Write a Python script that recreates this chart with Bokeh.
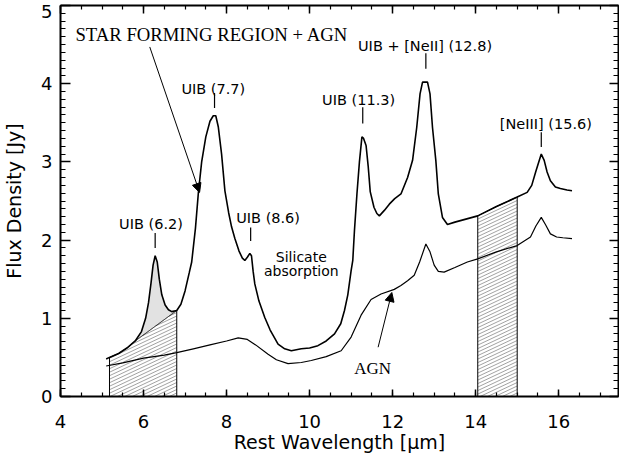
import numpy as np
from bokeh.plotting import figure
from bokeh.models import (LinearAxis, FixedTicker, Range1d, Arrow, NormalHead,
                          CustomJSTickFormatter)
from bokeh.core.properties import value
from bokeh.embed import file_html
from bokeh.resources import INLINE

# ---------------- data ----------------
sf_x = [5.10, 5.18, 5.40, 5.60, 5.80, 5.95, 6.05, 6.12, 6.18, 6.23, 6.28, 6.33, 6.38, 6.44,
        6.52, 6.60, 6.68, 6.80, 6.90, 7.00, 7.10, 7.16, 7.25, 7.32, 7.40, 7.50, 7.60, 7.68,
        7.74, 7.80, 7.88, 7.96, 8.05, 8.12, 8.20, 8.30, 8.38, 8.44, 8.50, 8.56, 8.60, 8.64,
        8.68, 8.78, 8.92, 9.05, 9.24, 9.40, 9.56, 9.80, 10.00, 10.20, 10.40, 10.60, 10.75,
        10.84, 10.92, 11.00, 11.04, 11.08, 11.14, 11.20, 11.26, 11.30, 11.36, 11.41, 11.46,
        11.55, 11.62, 11.68, 11.80, 11.92, 12.05, 12.20, 12.36, 12.48, 12.58, 12.66, 12.72,
        12.84, 12.90, 12.96, 13.04, 13.10, 13.20, 13.32, 13.50, 14.05, 14.50, 15.00, 15.24,
        15.35, 15.45, 15.58, 15.65, 15.72, 15.80, 15.92, 16.04, 16.20, 16.32]
sf_y = [0.48, 0.50, 0.55, 0.62, 0.71, 0.83, 1.00, 1.20, 1.45, 1.68, 1.80, 1.72, 1.50, 1.30,
        1.17, 1.11, 1.085, 1.10, 1.18, 1.35, 1.58, 1.72, 2.15, 2.60, 3.00, 3.32, 3.52, 3.59,
        3.59, 3.45, 3.10, 2.63, 2.35, 2.17, 2.02, 1.86, 1.77, 1.74, 1.78, 1.83, 1.80, 1.60,
        1.44, 1.22, 1.01, 0.85, 0.67, 0.61, 0.585, 0.61, 0.62, 0.65, 0.71, 0.80, 0.93,
        1.10, 1.30, 1.61, 1.74, 2.12, 2.59, 3.00, 3.32, 3.30, 3.21, 2.95, 2.62,
        2.42, 2.34, 2.31, 2.38, 2.46, 2.53, 2.59, 2.80, 3.02, 3.44, 3.87, 4.02,
        4.02, 3.87, 3.44, 3.02, 2.59, 2.29, 2.20, 2.23, 2.31, 2.43, 2.55, 2.61,
        2.70, 2.88, 3.10, 3.02, 2.87, 2.76, 2.68, 2.66, 2.64, 2.63]

agn_x = [5.10, 5.50, 6.00, 6.50, 6.80, 7.20, 7.60, 8.00, 8.28, 8.50, 8.70, 9.00, 9.20,
         9.48, 9.80, 10.04, 10.40, 10.76, 11.00, 11.24, 11.48, 11.72, 12.04, 12.20, 12.36,
         12.52, 12.65, 12.80, 12.90, 13.00, 13.10, 13.24, 13.50, 13.80, 14.05, 14.50, 15.00,
         15.32, 15.45, 15.58, 15.68, 15.80, 15.95, 16.10, 16.32]
agn_y = [0.39, 0.43, 0.49, 0.53, 0.56, 0.61, 0.66, 0.71, 0.75, 0.73, 0.66, 0.54, 0.47,
         0.42, 0.435, 0.46, 0.51, 0.585, 0.76, 1.04, 1.24, 1.31, 1.37, 1.42, 1.48,
         1.55, 1.72, 1.95, 1.85, 1.68, 1.60, 1.59, 1.65, 1.72, 1.76, 1.85, 1.93,
         2.04, 2.18, 2.29, 2.20, 2.08, 2.04, 2.03, 2.02]

band1 = [5.18, 6.80]       # hatched continuum band (short side)
band2 = [14.05, 15.00]     # hatched continuum band (long side)
feature_base_start = 5.80  # where the 6.2 um feature leaves the continuum

label_text = ["UIB (6.2)", "UIB (7.7)", "UIB (8.6)", "UIB (11.3)",
              "UIB + [NeII] (12.8)", "[NeIII] (15.6)"]
label_x = [6.18, 7.68, 9.00, 11.18, 12.78, 15.69]
label_y = [2.21, 3.93, 2.28, 3.79, 4.48, 3.48]
mark_x = [6.28, 7.71, 8.58, 11.28, 12.80, 15.58]
mark_y0 = [1.90, 3.69, 1.99, 3.49, 4.19, 3.19]
mark_y1 = [2.09, 3.88, 2.16, 3.70, 4.39, 3.38]

x_ticks = [4, 6, 8, 10, 12, 14, 16]
y_ticks = [0, 1, 2, 3, 4, 5]

# ---------------- figure ----------------
p = figure(width=619, height=460, x_range=Range1d(4, 17.44), y_range=Range1d(0, 5),
           output_backend="svg", toolbar_location=None,
           min_border_left=58, min_border_right=1, min_border_top=5, min_border_bottom=64)
p.outline_line_color = None
p.grid.visible = False

xminor = [4 + 0.5 * i for i in range(28)]
yminor = [0.1 * i for i in range(51)]
xt = FixedTicker(ticks=x_ticks, minor_ticks=xminor)
yt = FixedTicker(ticks=y_ticks, minor_ticks=yminor)

FONT = "DejaVu Sans"


def style(ax, major, minor, show_labels):
    ax.axis_line_width = 2
    ax.axis_line_color = "black"
    ax.major_tick_in = major
    ax.major_tick_out = 0
    ax.minor_tick_in = minor
    ax.minor_tick_out = 0
    ax.major_tick_line_width = 1.5
    ax.minor_tick_line_width = 1.2
    ax.major_tick_line_color = "black"
    ax.minor_tick_line_color = "black"
    if show_labels:
        ax.major_label_text_font = FONT
        ax.major_label_text_font_size = "18px"
        ax.major_label_text_color = "black"
        ax.axis_label_text_font = FONT
        ax.axis_label_text_font_size = "19px"
        ax.axis_label_text_font_style = "normal"
        ax.axis_label_text_color = "black"
    else:
        ax.formatter = CustomJSTickFormatter(code="return '';")
        ax.major_label_text_font_size = "1px"
        ax.major_label_standoff = 0


xa = p.xaxis[0]
xa.ticker = xt
style(xa, 7, 4, True)
xa.major_label_standoff = 18
xa.axis_label = "Rest Wavelength [μm]"
xa.axis_label_standoff = 0

ya = p.yaxis[0]
ya.ticker = yt
style(ya, 10, 5, True)
ya.major_label_standoff = 8
# the top tick label sits just below the frame edge, as in the original
ya.major_label_overrides = {5: "5\n"}
ya.axis_label = "Flux Density [Jy]"
ya.axis_label_standoff = 13

top_ax = LinearAxis(ticker=xt)
style(top_ax, 8, 4, False)
p.add_layout(top_ax, "above")
right_ax = LinearAxis(ticker=yt)
style(right_ax, 9, 5, False)
p.add_layout(right_ax, "right")

# ---------------- continuum bands / feature fill ----------------
sx = np.array(sf_x)
sy = np.array(sf_y)


def curve(x):
    return np.interp(x, sx, sy)


def top1(x):
    x = np.asarray(x, dtype=float)
    ya_ = curve(feature_base_start)
    yb_ = curve(band1[1])
    lin = ya_ + (yb_ - ya_) * (x - feature_base_start) / (band1[1] - feature_base_start)
    return np.where(x <= feature_base_start, curve(x), lin)


# grey 6.2 feature area
m = (sx > feature_base_start) & (sx < band1[1])
gx = [feature_base_start] + list(sx[m]) + [band1[1]]
gy = [curve(feature_base_start)] + list(sy[m]) + [curve(band1[1])]
p.patch(gx, gy, fill_color="#e2e2e2", line_color=None)

# hatch lines (shallow diagonal)
slope_px = 0.47
px_x = 41.67
px_y = 78.2
slope = slope_px * px_x / px_y
step = 3.5 / px_y


def hatch(x0, x1, top_fn):
    xg = np.linspace(x0, x1, 600)
    tg = top_fn(xg)
    X0, Y0, X1, Y1 = [], [], [], []
    c = -slope * (x1 - x0)
    while c < tg.max():
        yg = c + slope * (xg - x0)
        ok = (yg >= 0) & (yg <= tg)
        if ok.sum() >= 2:
            idx = np.where(ok)[0]
            X0.append(xg[idx[0]]); Y0.append(yg[idx[0]])
            X1.append(xg[idx[-1]]); Y1.append(yg[idx[-1]])
        c += step
    return X0, Y0, X1, Y1


for (a, b, fn) in [(band1[0], band1[1], top1), (band2[0], band2[1], curve)]:
    X0, Y0, X1, Y1 = hatch(a, b, fn)
    p.segment(X0, Y0, X1, Y1, line_color="#555555", line_width=0.55)
    xs_b = np.linspace(a, b, 200)
    ox = [a] + list(xs_b) + [b]
    oy = [0] + list(fn(xs_b)) + [0]
    p.line(ox, oy, line_color="black", line_width=1)

# ---------------- spectra ----------------
p.line(sf_x, sf_y, line_color="black", line_width=1.6)
p.line(agn_x, agn_y, line_color="black", line_width=1.2)

# ---------------- annotations ----------------
p.segment(mark_x, mark_y0, mark_x, mark_y1, line_color="black", line_width=1.2)
p.text(x=label_x, y=label_y, text=label_text, text_font=value(FONT), text_font_size="14.5px",
       text_align="center", text_baseline="alphabetic", text_color="black")
p.text(x=[9.80, 9.80], y=[1.78, 1.60], text=["Silicate", "absorption"], text_font=value(FONT),
       text_font_size="14px", text_align="center", text_baseline="alphabetic", text_color="black")
p.text(x=[4.36], y=[4.63], text=["STAR FORMING REGION + AGN"], text_font=value("Liberation Serif"),
       text_font_size="18.7px", text_align="left", text_baseline="alphabetic", text_color="black")
p.text(x=[11.52], y=[0.36], text=["AGN"], text_font=value("Liberation Serif"),
       text_font_size="17px", text_align="center", text_baseline="alphabetic", text_color="black")

p.add_layout(Arrow(end=NormalHead(size=9, fill_color="black", line_color="black", line_width=1),
                   x_start=6.15, y_start=4.47, x_end=7.35, y_end=2.61,
                   line_color="black", line_width=1))
p.add_layout(Arrow(end=NormalHead(size=9, fill_color="black", line_color="black", line_width=1),
                   x_start=11.65, y_start=0.63, x_end=11.98, y_end=1.33,
                   line_color="black", line_width=1))

open("out.html", "w").write(file_html(p, INLINE))
